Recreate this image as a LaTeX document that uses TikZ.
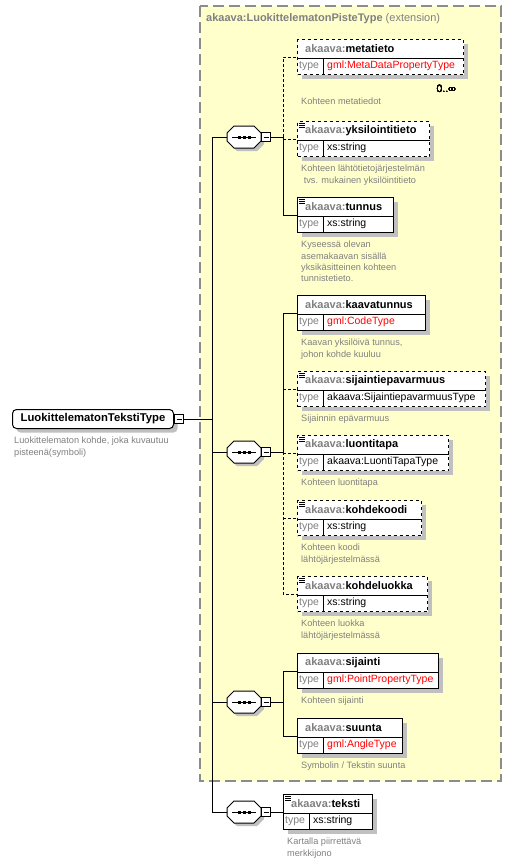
\documentclass[tikz,border=0pt]{standalone}
\usepackage{fontspec}
\setmainfont{Liberation Sans}
\usetikzlibrary{positioning,shadows}

\definecolor{extfill}{RGB}{255,255,204}
\definecolor{extline}{RGB}{140,140,140}
\definecolor{prefix}{RGB}{128,128,128}
\definecolor{descgray}{RGB}{128,128,128}
\definecolor{shadowgray}{RGB}{192,192,192}
\definecolor{typered}{RGB}{255,0,0}

\tikzset{
  boxshadow/.style={drop shadow={shadow xshift=4pt,shadow yshift=-4pt,shadow scale=1,opacity=1,fill=shadowgray}},
  elem/.style={draw,fill=white,line width=1pt,minimum height=35pt,inner sep=0pt,boxshadow},
  ename/.style={anchor=west,inner sep=0pt,font=\fontsize{11}{13}\selectfont\bfseries},
  tlabel/.style={anchor=west,inner sep=0pt,text=prefix,font=\fontsize{10.5}{12}\selectfont},
  tvalue/.style={anchor=west,inner sep=0pt,font=\fontsize{10.5}{12}\selectfont},
  desc/.style={anchor=north west,align=left,inner sep=0pt,text=descgray,font=\fontsize{9.2}{11.2}\selectfont},
}

% element box: header with name, row with type
\newcommand{\xsdelem}[7][]{%
  \node[elem,#1,minimum width=#4,anchor=north west] (#2) at (#3) {};
  \draw ([yshift=-19pt]#2.north west) -- ([yshift=-19pt]#2.north east);
  \draw ([xshift=26pt,yshift=-19pt]#2.north west) -- ([xshift=26pt]#2.south west);
  \node[ename] at ([xshift=8pt,yshift=-10pt]#2.north west) {\textcolor{prefix}{akaava:}#5};
  \node[tlabel] at ([xshift=2pt,yshift=-27pt]#2.north west) {type};
  \node[tvalue,text=#7] at ([xshift=30pt,yshift=-27pt]#2.north west) {#6};
}
% small mark for simple content
\newcommand{\simplemark}[1]{%
  \foreach \ii in {2,4,6}
    \draw[line width=.8pt] ([xshift=2pt,yshift=-\ii pt]#1.north west) -- ++(6,0);
}

\begin{document}
\begin{tikzpicture}[x=1pt,y=-1pt,
    conn/.style={line width=1pt},
    opt/.style={conn,dash pattern=on 3pt off 2pt},
    seq/.style={minimum width=34pt,minimum height=22pt,inner sep=0pt},
    minus/.style={draw,fill=white,line width=1pt,minimum size=9pt,inner sep=0pt,
      path picture={\draw ([xshift=2pt]path picture bounding box.west) -- ([xshift=-2pt]path picture bounding box.east);}},
  ]
  \useasboundingbox (0,0) rectangle (512,863);
  \fill[white] (0,0) rectangle (512,863);

  % extension area
  \draw[extline,fill=extfill,line width=1.5pt,dash pattern=on 11pt off 5pt] (200,6) rectangle (501,781);
  \node[anchor=west,inner sep=0pt,text=prefix,font=\fontsize{11}{13}\selectfont] (ext) at (206,19)
    {\textbf{akaava:LuokittelematonPisteType} (extension)};

  % root
  \node[draw,fill=white,line width=1pt,rounded corners=4pt,minimum width=161pt,minimum height=19pt,
    inner sep=0pt,anchor=north west,boxshadow,font=\fontsize{11.3}{13}\selectfont\bfseries]
    (root) at (12,409) {LuokittelematonTekstiType};
  \node[minus,right=0pt of root] (rootm) {};
  \node[desc] (rootd) at ([xshift=2pt,yshift=-8pt]root.south west)
    {Luokittelematon kohde, joka kuvautuu\\pisteenä(symboli)};

  % sequences
  \node[seq] (seqA) at (244,137) {};
  \node[seq] (seqB) at (244,452) {};
  \node[seq] (seqC) at (244,702) {};
  \node[seq] (seqD) at (244,812) {};
  \foreach \s in {seqA,seqB,seqC,seqD} {
    \begin{scope}[shift={(\s.center)}]
      \fill[shadowgray] (-14,-1) -- (-7,-8) -- (13,-8) -- (20,-1) -- (20,7) -- (13,14) -- (-7,14) -- (-14,7) -- cycle;
      \draw[fill=white,line width=1pt] (-17,-4) -- (-10,-11) -- (10,-11) -- (17,-4) -- (17,4) -- (10,11) -- (-10,11) -- (-17,4) -- cycle;
      \draw (-12,0) -- (12,0);
      \foreach \d in {-5,0,5}
        \fill (\d-1.5,-1.5) rectangle (\d+1.5,1.5);
    \end{scope}
    \node[minus,right=0pt of \s] (\s m) {};
  }

  % elements
  \xsdelem[dashed]{metatieto}{297,39}{166pt}{metatieto}{gml:MetaDataPropertyType}{typered}
  \xsdelem[dashed]{yksilointitieto}{297,121}{132pt}{yksilointitieto}{xs:string}{black}
  \xsdelem{tunnus}{297,197}{96pt}{tunnus}{xs:string}{black}
  \xsdelem{kaavatunnus}{297,295}{128pt}{kaavatunnus}{gml:CodeType}{typered}
  \xsdelem[dashed]{sijaintiepavarmuus}{297,371}{188pt}{sijaintiepavarmuus}{akaava:SijaintiepavarmuusType}{black}
  \xsdelem[dashed]{luontitapa}{297,435}{151pt}{luontitapa}{akaava:LuontiTapaType}{black}
  \xsdelem[dashed]{kohdekoodi}{297,500}{124pt}{kohdekoodi}{xs:string}{black}
  \xsdelem[dashed]{kohdeluokka}{297,576}{130pt}{kohdeluokka}{xs:string}{black}
  \xsdelem{sijainti}{297,653}{141pt}{sijainti}{gml:PointPropertyType}{typered}
  \xsdelem{suunta}{297,718}{105pt}{suunta}{gml:AngleType}{typered}
  \xsdelem{teksti}{283,794}{89pt}{teksti}{xs:string}{black}
  \foreach \e in {yksilointitieto,tunnus,sijaintiepavarmuus,luontitapa,kohdekoodi,kohdeluokka,teksti}
    \simplemark{\e}
  \node[anchor=east,inner sep=0pt,font=\fontsize{10.5}{12}\selectfont] (occ)
    at ([xshift=-8pt,yshift=-14pt]metatieto.south east) {0..∞};

  % descriptions
  \node[desc] at ([xshift=4pt,yshift=-23pt]metatieto.south west) {Kohteen metatiedot};
  \node[desc] at ([xshift=4pt,yshift=-8pt]yksilointitieto.south west) {Kohteen lähtötietojärjestelmän\\\ tvs. mukainen yksilöintitieto};
  \node[desc] at ([xshift=4pt,yshift=-8pt]tunnus.south west) {Kyseessä olevan\\asemakaavan sisällä\\yksikäsitteinen kohteen\\tunnistetieto.};
  \node[desc] at ([xshift=4pt,yshift=-8pt]kaavatunnus.south west) {Kaavan yksilöivä tunnus,\\johon kohde kuuluu};
  \node[desc] at ([xshift=4pt,yshift=-8pt]sijaintiepavarmuus.south west) {Sijainnin epävarmuus};
  \node[desc] at ([xshift=4pt,yshift=-8pt]luontitapa.south west) {Kohteen luontitapa};
  \node[desc] at ([xshift=4pt,yshift=-8pt]kohdekoodi.south west) {Kohteen koodi\\lähtöjärjestelmässä};
  \node[desc] at ([xshift=4pt,yshift=-8pt]kohdeluokka.south west) {Kohteen luokka\\lähtöjärjestelmässä};
  \node[desc] at ([xshift=4pt,yshift=-8pt]sijainti.south west) {Kohteen sijainti};
  \node[desc] at ([xshift=4pt,yshift=-8pt]suunta.south west) {Symbolin / Tekstin suunta};
  \node[desc] at ([xshift=4pt,yshift=-8pt]teksti.south west) {Kartalla piirrettävä\\merkkijono};

  % connectors
  \coordinate (trunk) at (212,0);
  \draw[conn] (rootm.east) -- (rootm.east -| trunk);
  \draw[conn] (seqA.west -| trunk) -- (seqD.west -| trunk);
  \foreach \s in {seqA,seqB,seqC,seqD}
    \draw[conn] (\s.west -| trunk) -- (\s.west);

  \coordinate (brA) at ([xshift=12pt]seqAm.east);
  \draw[conn] (seqAm.east) -- (brA);
  \draw[opt] (brA) -- (brA |- metatieto.west) -- (metatieto.west);
  \draw[opt] (brA |- yksilointitieto.west) -- (yksilointitieto.west);
  \draw[conn] (brA) -- (brA |- tunnus.west) -- (tunnus.west);

  \coordinate (brB) at ([xshift=12pt]seqBm.east);
  \draw[conn] (seqBm.east) -- (brB);
  \draw[conn] (brB) -- (brB |- kaavatunnus.west) -- (kaavatunnus.west);
  \draw[opt] (brB) -- (brB |- kohdeluokka.west) -- (kohdeluokka.west);
  \foreach \e in {sijaintiepavarmuus,luontitapa,kohdekoodi}
    \draw[opt] (brB |- \e.west) -- (\e.west);

  \coordinate (brC) at ([xshift=12pt]seqCm.east);
  \draw[conn] (seqCm.east) -- (brC);
  \draw[conn] (brC |- sijainti.west) -- (sijainti.west);
  \draw[conn] (brC |- suunta.west) -- (suunta.west);
  \draw[conn] (brC |- sijainti.west) -- (brC |- suunta.west);

  \draw[conn] (seqDm.east) -- (teksti.west);
\end{tikzpicture}
\end{document}
